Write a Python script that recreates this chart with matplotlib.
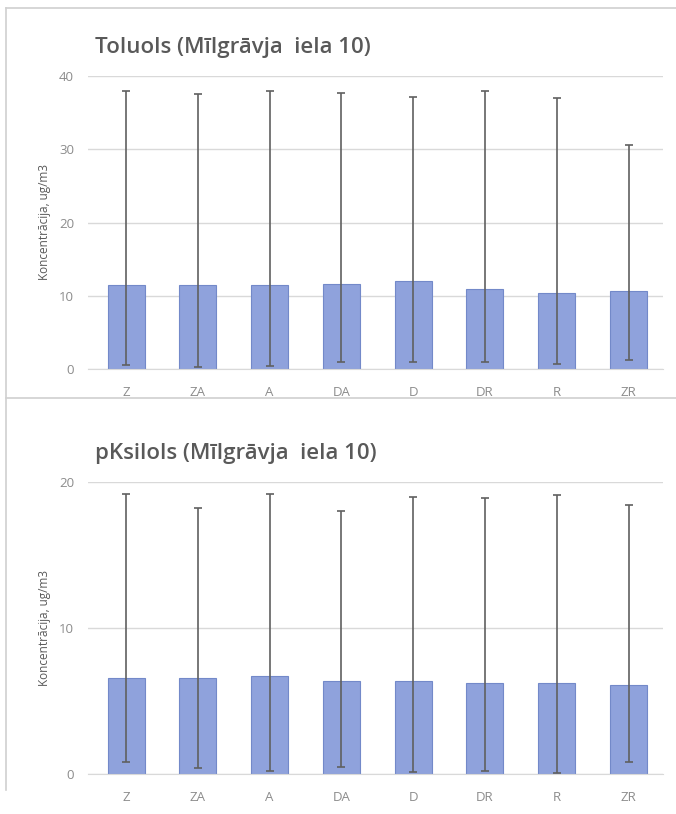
import matplotlib
matplotlib.use("Agg")
import matplotlib.pyplot as plt
from matplotlib.lines import Line2D
import numpy as np

# ── Data ─────────────────────────────────────────────────────────────────────
categories = ["Z", "ZA", "A", "DA", "D", "DR", "R", "ZR"]

toluols_mean = [11.5, 11.4, 11.5, 11.6, 12.0, 10.9, 10.4, 10.6]
toluols_min  = [0.5, 0.3, 0.4, 1.0, 1.0, 1.0, 0.7, 1.2]
toluols_max  = [37.9, 37.5, 37.9, 37.7, 37.2, 37.9, 37.0, 30.6]

pksilols_mean = [6.6, 6.6, 6.7, 6.4, 6.4, 6.2, 6.2, 6.1]
pksilols_min  = [0.8, 0.4, 0.2, 0.5, 0.15, 0.2, 0.1, 0.8]
pksilols_max  = [19.2, 18.2, 19.2, 18.0, 19.0, 18.9, 19.1, 18.4]

W, H = 676, 814
BAR_COLOR = "#8FA2DC"
EDGE_COLOR = "#7389C9"
ERR_COLOR = "#606060"
TEXT_COLOR = "#595959"
TICK_COLOR = "#8C8C8C"
GRID_COLOR = "#D9D9D9"

plt.rcParams["font.family"] = ["Open Sans", "DejaVu Sans"]

fig = plt.figure(figsize=(W / 100, H / 100), dpi=100)


def px_axes(x0, y_top, x1, y_bot):
    return fig.add_axes([x0 / W, 1 - y_bot / H, (x1 - x0) / W, (y_bot - y_top) / H])


def draw_panel(ax, mean, lo, hi, ymax, step, title, title_y):
    x = np.arange(len(categories))
    mean = np.array(mean)
    yerr = [mean - np.array(lo), np.array(hi) - mean]
    ax.bar(x, mean, width=0.515, color=BAR_COLOR, edgecolor=EDGE_COLOR,
           linewidth=0.8, zorder=2)
    ax.errorbar(x, mean, yerr=yerr, fmt="none", ecolor=ERR_COLOR,
                elinewidth=1.2, capsize=3, capthick=1.2, zorder=3)
    ax.set_xlim(-0.53, len(categories) - 0.52)
    ax.set_ylim(0, ymax)
    ax.set_yticks(np.arange(0, ymax + 1, step))
    ax.set_xticks(x)
    ax.set_xticklabels(categories)
    ax.yaxis.grid(True, color=GRID_COLOR, linewidth=1)
    ax.set_axisbelow(True)
    for s in ["top", "right", "left"]:
        ax.spines[s].set_visible(False)
    ax.spines["bottom"].set_color(GRID_COLOR)
    ax.tick_params(axis="both", length=0, colors=TICK_COLOR, labelsize=9.5)
    ax.tick_params(axis="x", pad=12)
    ax.tick_params(axis="y", pad=10)
    ax.set_ylabel("Koncentrācija, ug/m3", fontsize=8.5, color=TEXT_COLOR, labelpad=6)
    fig.text(95 / W, 1 - title_y / H, title, fontsize=16, fontweight="semibold",
             color=TEXT_COLOR, va="center", ha="left")


ax1 = px_axes(88, 76, 663, 369)
draw_panel(ax1, toluols_mean, toluols_min, toluols_max, 40, 10,
           "Toluols (Mīlgrāvja  iela 10)", 47)

ax2 = px_axes(88, 482, 663, 774)
draw_panel(ax2, pksilols_mean, pksilols_min, pksilols_max, 20, 10,
           "pKsilols (Mīlgrāvja  iela 10)", 454)

# panel borders
border = "#D0D0D0"
def fline(x0, y0, x1, y1):
    fig.add_artist(Line2D([x0 / W, x1 / W], [1 - y0 / H, 1 - y1 / H],
                          color=border, linewidth=1.2))

fline(6, 8, 676, 8)
fline(6, 8, 6, 790)
fline(6, 398, 676, 398)

fig.savefig("out.png", dpi=100)
